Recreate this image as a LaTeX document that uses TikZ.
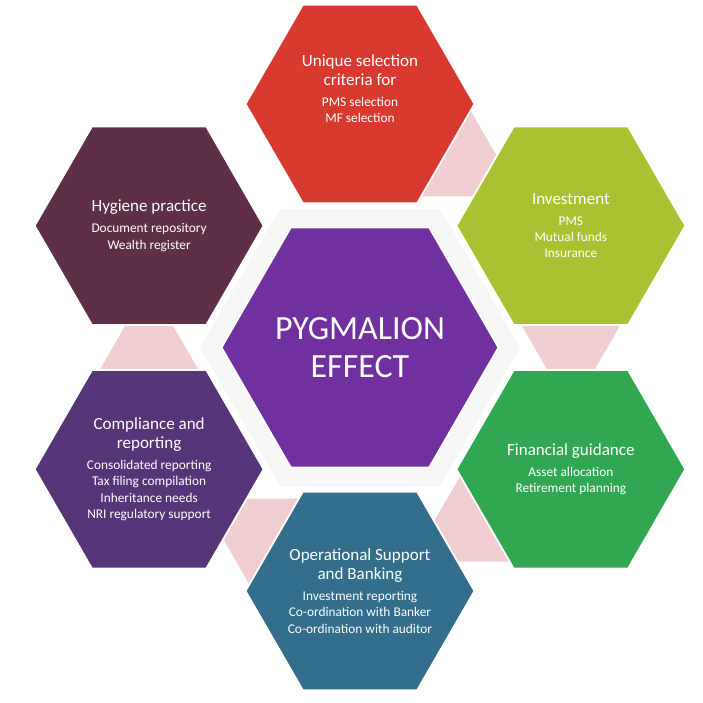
\documentclass[tikz,border=0pt]{standalone}
\usepackage{fontspec}
\setmainfont{Carlito}
\usepackage{tikz}
\usetikzlibrary{shapes.geometric, calc}
\definecolor{corepurple}{RGB}{112,48,160}
\definecolor{critred}{RGB}{217,58,48}
\definecolor{invlime}{RGB}{170,194,50}
\definecolor{guidgreen}{RGB}{50,167,82}
\definecolor{opsteal}{RGB}{51,110,140}
\definecolor{compviolet}{RGB}{85,52,120}
\definecolor{hygmaroon}{RGB}{94,47,70}
\definecolor{bandpink}{RGB}{240,206,209}
\newcommand{\hextitle}{\fontsize{9.7}{10.8}\selectfont}
\newcommand{\hexitems}{\par\vspace{2.6pt}\fontsize{7.6}{9.3}\selectfont}
\tikzset{
    hexbig/.style={
        regular polygon, regular polygon sides=6,
        minimum size=5.54cm, inner sep=0pt,
        draw=white, line width=1pt
    },
    hexcell/.style={
        regular polygon, regular polygon sides=6,
        minimum size=4.58cm, inner sep=0pt,
        draw=white, line width=1pt
    },
    caption/.style={
        text=white, text width=3.9cm,
        align=flush center, inner sep=0pt,
        font={\fontsize{7.6}{9.3}\selectfont}
    },
    band/.style={
        fill=bandpink
    },
    glow/.style={
        fill=black!3, draw=none
    }
}

\begin{document}
\begin{tikzpicture}[x=0.02cm, y=0.02cm]
\useasboundingbox (-360,-355.5) rectangle (343,347.5);

% soft background behind the centre
\node[hexbig, glow, minimum size=6.4cm] (coreglow) at (0,0) {};

% outer ring positions
\coordinate (redpos) at (90:243.5);
\coordinate (limepos) at (30:243.5);
\coordinate (greenpos) at (-30:243.5);
\coordinate (bluepos) at (-90:243.5);
\coordinate (violetpos) at (-150:243.5);
\coordinate (maroonpos) at (150:243.5);

% pink bands from one cell to the next
\foreach \src/\ang in {redpos/-30, limepos/-90, greenpos/-150, bluepos/150, violetpos/90}
    \fill[band] ($(\src)+(\ang-26.5:110.9)$) -- ($(\src)+(\ang:185)$) -- ($(\src)+(\ang+26.5:110.9)$) -- cycle;

\node[hexbig, fill=corepurple] (core) at (0,0) {};
\node[hexcell, fill=critred] (crit) at (redpos) {};
\node[hexcell, fill=invlime] (invest) at (limepos) {};
\node[hexcell, fill=guidgreen] (guid) at (greenpos) {};
\node[hexcell, fill=opsteal] (ops) at (bluepos) {};
\node[hexcell, fill=compviolet] (comp) at (violetpos) {};
\node[hexcell, fill=hygmaroon] (hyg) at (maroonpos) {};

\node[text=white, align=center, font={\fontsize{19.3}{21.5}\selectfont}] (coretxt) at (core) {PYGMALION\\EFFECT};

\node[caption] (crittxt) at ([yshift=0.3cm]crit.center) {\hextitle Unique selection\\criteria for\hexitems PMS selection\\MF selection};
\node[caption] (investtxt) at (invest) {\hextitle Investment\hexitems PMS\\Mutual funds\\Insurance};
\node[caption] (guidtxt) at (guid) {\hextitle Financial guidance\hexitems Asset allocation\\Retirement planning};
\node[caption] (opstxt) at (ops) {\hextitle Operational Support\\and Banking\hexitems Investment reporting\\Co-ordination with Banker\\Co-ordination with auditor};
\node[caption] (comptxt) at (comp) {\hextitle Compliance and\\reporting\hexitems Consolidated reporting\\Tax filing compilation\\Inheritance needs\\NRI regulatory support};
\node[caption] (hygtxt) at (hyg) {\hextitle Hygiene practice\hexitems Document repository\\Wealth register};

\end{tikzpicture}
\end{document}
